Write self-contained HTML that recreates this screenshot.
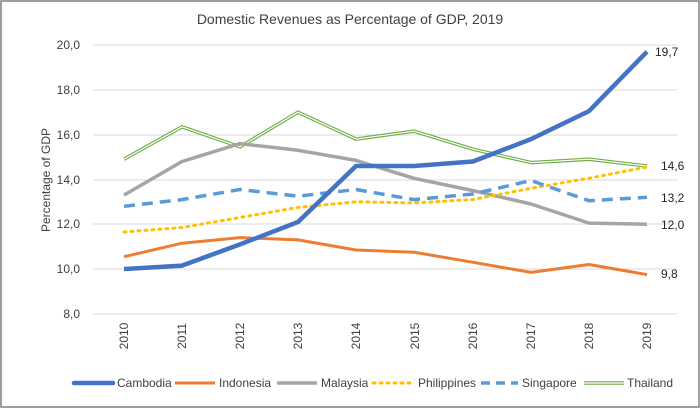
<!DOCTYPE html>
<html><head><meta charset="utf-8"><style>body{margin:0;background:#fff}svg{display:block;font-family:"Liberation Sans",sans-serif}</style></head><body>
<svg width="700" height="408" viewBox="0 0 700 408" xmlns="http://www.w3.org/2000/svg">
<rect x="1" y="1" width="698" height="406" fill="#fff" stroke="#7f7f7f" stroke-width="1.5"/>
<text x="350" y="24" text-anchor="middle" font-size="14" fill="#404040">Domestic Revenues as Percentage of GDP, 2019</text>
<g stroke="#d9d9d9" stroke-width="1">
<line x1="93" x2="677" y1="45" y2="45"/><line x1="93" x2="677" y1="90" y2="90"/><line x1="93" x2="677" y1="135" y2="135"/><line x1="93" x2="677" y1="180" y2="180"/><line x1="93" x2="677" y1="224" y2="224"/><line x1="93" x2="677" y1="269" y2="269"/><line x1="93" x2="677" y1="314" y2="314"/>
</g>
<g font-size="12" fill="#404040" text-anchor="end">
<text x="80" y="49">20,0</text><text x="80" y="94">18,0</text><text x="80" y="139">16,0</text><text x="80" y="184">14,0</text><text x="80" y="228">12,0</text><text x="80" y="273">10,0</text><text x="80" y="318">8,0</text>
</g>
<text transform="translate(50,180) rotate(-90)" text-anchor="middle" font-size="12" fill="#404040">Percentage of GDP</text>
<g font-size="12" fill="#404040" text-anchor="middle">
<text transform="translate(128,336) rotate(-90)">2010</text><text transform="translate(186,336) rotate(-90)">2011</text><text transform="translate(244,336) rotate(-90)">2012</text><text transform="translate(302,336) rotate(-90)">2013</text><text transform="translate(360,336) rotate(-90)">2014</text><text transform="translate(419,336) rotate(-90)">2015</text><text transform="translate(477,336) rotate(-90)">2016</text><text transform="translate(535,336) rotate(-90)">2017</text><text transform="translate(593,336) rotate(-90)">2018</text><text transform="translate(651,336) rotate(-90)">2019</text>
</g>
<g fill="none" stroke-linejoin="round">
<polyline stroke="#70ad47" stroke-width="3.5" points="124,159.2 182,126.8 240,146.9 298,112.2 356,139.1 414,131.2 473,149.2 531,162.6 589,159.2 647,166.0"/>
<polyline stroke="#fff" stroke-width="1.2" points="124,159.2 182,126.8 240,146.9 298,112.2 356,139.1 414,131.2 473,149.2 531,162.6 589,159.2 647,166.0"/>
<polyline stroke="#a5a5a5" stroke-width="3.5" points="124,195.1 182,161.5 240,143.6 298,150.3 356,160.4 414,178.3 473,190.6 531,204.0 589,223.1 647,224.2"/>
<polyline stroke="#ed7d31" stroke-width="3" points="124,256.7 182,243.2 240,237.6 298,239.9 356,250.0 414,252.2 473,262.3 531,272.4 589,264.5 647,274.6"/>
<polyline stroke="#ffc000" stroke-width="3" stroke-dasharray="2,5" stroke-linecap="round" points="124,232.0 182,227.5 240,217.5 298,207.4 356,201.8 414,202.9 473,199.5 531,188.3 589,178.2 647,167.0"/>
<polyline stroke="#5b9bd5" stroke-width="3.5" stroke-dasharray="11,7" points="124,206.3 182,199.6 240,189.5 298,196.2 356,189.5 414,199.6 473,194.0 531,180.5 589,200.7 647,197.3"/>
<polyline stroke="#4472c4" stroke-width="4.5" points="124,269.0 182,265.6 240,244.4 298,222.0 356,166.0 414,166.0 473,161.5 531,139.1 589,111.1 647,51.7"/>
</g>
<g font-size="12" fill="#262626">
<text x="655" y="56">19,7</text><text x="661" y="170">14,6</text><text x="661" y="202">13,2</text><text x="661" y="229">12,0</text><text x="661" y="278">9,8</text>
</g>
<g font-size="12" fill="#404040">
<line x1="74" x2="113" y1="383" y2="383" stroke="#4472c4" stroke-width="4.5" stroke-linecap="round"/><text x="117" y="387">Cambodia</text>
<line x1="175" x2="215" y1="383" y2="383" stroke="#ed7d31" stroke-width="3"/><text x="219" y="387">Indonesia</text>
<line x1="277" x2="317" y1="383" y2="383" stroke="#a5a5a5" stroke-width="3.5"/><text x="321" y="387">Malaysia</text>
<line x1="373" x2="410" y1="383" y2="383" stroke="#ffc000" stroke-width="3" stroke-dasharray="2,5" stroke-linecap="round"/><text x="418" y="387">Philippines</text>
<line x1="481" x2="518" y1="383" y2="383" stroke="#5b9bd5" stroke-width="3.5" stroke-dasharray="9,6"/><text x="522" y="387">Singapore</text>
<line x1="584" x2="624" y1="383" y2="383" stroke="#70ad47" stroke-width="3.5"/><line x1="584" x2="624" y1="383" y2="383" stroke="#fff" stroke-width="1.2"/><text x="627" y="387">Thailand</text>
</g>
</svg>
</body></html>
